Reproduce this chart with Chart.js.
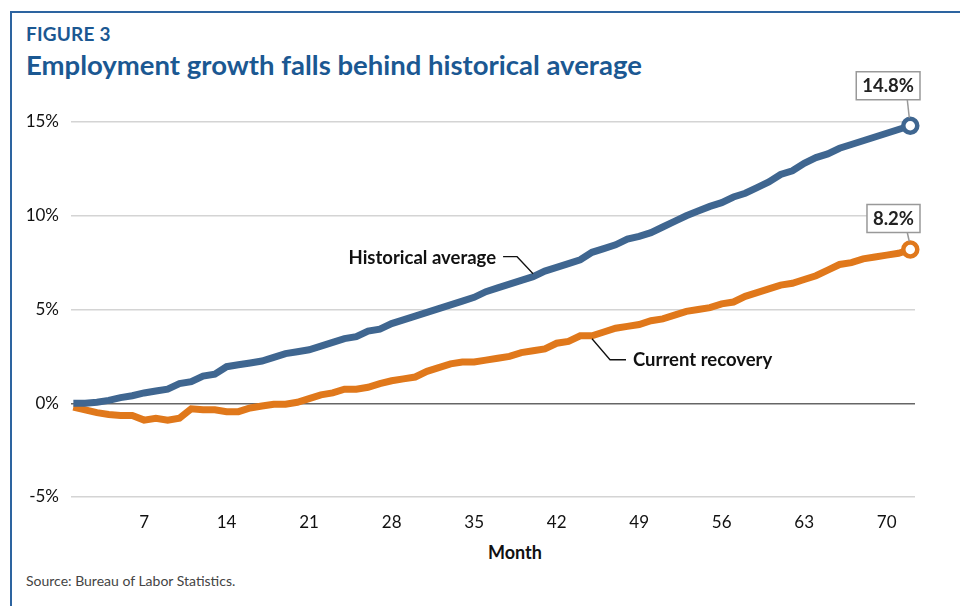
<!DOCTYPE html>
<html>
<head>
<meta charset="utf-8">
<script src="https://cdn.jsdelivr.net/npm/chart.js@4/dist/chart.umd.min.js"></script>
<style>
  html, body { margin: 0; padding: 0; background: #fff; }
  body { width: 960px; height: 606px; position: relative; overflow: hidden; font-family: Lato, "Open Sans", sans-serif; }
  #frame { position: absolute; left: 10px; top: 11px; width: 960px; height: 620px; border-left: 2px solid #2d64a0; border-top: 2px solid #2d64a0; }
  #fig { position: absolute; left: 26px; top: 22px; font-size: 19px; font-weight: bold; color: #1b5892; letter-spacing: 0.2px; }
  #title { position: absolute; left: 26px; top: 48px; font-size: 27.5px; font-weight: bold; color: #1b5892; }
  #month { position: absolute; left: 488px; top: 541px; font-size: 18px; font-weight: bold; color: #111; }
  #source { position: absolute; left: 26px; top: 572px; font-size: 14px; color: #444; }
  canvas { position: absolute; left: 0; top: 0; }
</style>
</head>
<body>
<div id="frame"></div>
<div id="fig">FIGURE 3</div>
<div id="title">Employment growth falls behind historical average</div>
<div id="month">Month</div>
<div id="source">Source: Bureau of Labor Statistics.</div>
<canvas id="grafico" width="960" height="606"></canvas>
<script>
// meses 1..72 apos o inicio da recuperacao
var meses = [];
for (var m = 1; m <= 72; m++) meses.push(m);

var tickMeses = [7, 14, 21, 28, 35, 42, 49, 56, 63, 70];
var tickPercent = [-5, 0, 5, 10, 15];

// Media historica (%)
var mediaHistorica = [
  0.0, 0.0, 0.05, 0.15, 0.3, 0.4, 0.55, 0.65, 0.75, 1.05,
  1.15, 1.45, 1.55, 1.95, 2.05, 2.15, 2.25, 2.45, 2.65, 2.75,
  2.85, 3.05, 3.25, 3.45, 3.55, 3.85, 3.95, 4.25, 4.45, 4.65,
  4.85, 5.05, 5.25, 5.45, 5.65, 5.95, 6.15, 6.35, 6.55, 6.75,
  7.05, 7.25, 7.45, 7.65, 8.05, 8.25, 8.45, 8.75, 8.9, 9.1,
  9.4, 9.7, 10.0, 10.25, 10.5, 10.7, 11.0, 11.2, 11.5, 11.8,
  12.2, 12.4, 12.8, 13.1, 13.3, 13.6, 13.8, 14.0, 14.2, 14.4,
  14.6, 14.8
];

// Recuperacao atual (%)
var recuperacaoAtual = [
  -0.2, -0.35, -0.5, -0.6, -0.65, -0.65, -0.9, -0.8, -0.9, -0.8,
  -0.3, -0.35, -0.35, -0.45, -0.45, -0.25, -0.15, -0.05, -0.05, 0.05,
  0.25, 0.45, 0.55, 0.75, 0.75, 0.85, 1.05, 1.2, 1.3, 1.4,
  1.7, 1.9, 2.1, 2.2, 2.2, 2.3, 2.4, 2.5, 2.7, 2.8,
  2.9, 3.2, 3.3, 3.6, 3.6, 3.8, 4.0, 4.1, 4.2, 4.4,
  4.5, 4.7, 4.9, 5.0, 5.1, 5.3, 5.4, 5.7, 5.9, 6.1,
  6.3, 6.4, 6.6, 6.8, 7.1, 7.4, 7.5, 7.7, 7.8, 7.9,
  8.0, 8.2
];

var nomes = ['Historical average', 'Current recovery'];
var cores = ['#3f6690', '#e0781b'];

var ultimo = meses.length - 1;
function raioFinal(ctx) { return ctx.dataIndex === ultimo ? 7 : 0; }

// desenha rotulos das series e valores finais
var anotacoes = {
  id: 'anotacoes',
  afterDatasetsDraw: function (chart) {
    var c = chart.ctx;
    var xs = chart.scales.x, ys = chart.scales.y;
    c.save();
    c.font = 'bold 18.5px Lato, sans-serif';
    c.fillStyle = '#111';
    c.strokeStyle = '#111';
    c.lineWidth = 1.3;
    c.textBaseline = 'middle';

    // Historical average
    var hx = xs.getPixelForValue(meses[39]);
    var hy = ys.getPixelForValue(mediaHistorica[39]) - 3;
    c.beginPath();
    c.moveTo(hx, hy);
    c.lineTo(hx - 16, hy - 17);
    c.lineTo(hx - 30, hy - 17);
    c.stroke();
    c.textAlign = 'right';
    c.fillText(nomes[0], hx - 37, hy - 16);

    // Current recovery
    var rx = xs.getPixelForValue(meses[44]);
    var ry = ys.getPixelForValue(recuperacaoAtual[44]) + 3;
    c.beginPath();
    c.moveTo(rx, ry);
    c.lineTo(rx + 18, ry + 21);
    c.lineTo(rx + 34, ry + 21);
    c.stroke();
    c.textAlign = 'left';
    c.fillText(nomes[1], rx + 41, ry + 21);

    // caixas com valor final
    var finais = [mediaHistorica[ultimo], recuperacaoAtual[ultimo]];
    var gaps = [26, 17];
    c.textAlign = 'center';
    for (var i = 0; i < finais.length; i++) {
      var px = xs.getPixelForValue(meses[ultimo]);
      var py = ys.getPixelForValue(finais[i]);
      var txt = finais[i].toFixed(1) + '%';
      var w = c.measureText(txt).width + 12;
      var bx = 920 - w, bb = py - gaps[i], bt = bb - 28;
      c.strokeStyle = '#999';
      c.lineWidth = 1.5;
      c.beginPath();
      c.moveTo(px - 3, bb);
      c.lineTo(px - 1, py - 8);
      c.stroke();
      c.fillStyle = '#fff';
      c.fillRect(bx, bt, w, 28);
      c.strokeRect(bx, bt, w, 28);
      c.fillStyle = '#222';
      c.fillText(txt, bx + w / 2, bt + 14.5);
    }
    c.restore();
  }
};

var ctx = document.getElementById('grafico').getContext('2d');
var chart = new Chart(ctx, {
  type: 'line',
  data: {
    labels: meses,
    datasets: [
      {
        label: nomes[0],
        data: mediaHistorica,
        borderColor: cores[0],
        backgroundColor: '#fff',
        borderWidth: 7,
        pointRadius: raioFinal,
        pointHoverRadius: raioFinal,
        pointBorderWidth: 4.5,
        pointBorderColor: cores[0],
        pointBackgroundColor: '#fff',
        tension: 0
      },
      {
        label: nomes[1],
        data: recuperacaoAtual,
        borderColor: cores[1],
        backgroundColor: '#fff',
        borderWidth: 7,
        pointRadius: raioFinal,
        pointHoverRadius: raioFinal,
        pointBorderWidth: 4.5,
        pointBorderColor: cores[1],
        pointBackgroundColor: '#fff',
        tension: 0
      }
    ]
  },
  options: {
    responsive: false,
    animation: false,
    clip: false,
    layout: { padding: { top: 122, left: 0, right: 45, bottom: 0 } },
    plugins: {
      legend: { display: false },
      tooltip: { enabled: false }
    },
    scales: {
      x: {
        type: 'linear',
        min: 0.8,
        max: 72.4,
        afterFit: function (s) { s.height = 109; },
        afterBuildTicks: function (s) { s.ticks = tickMeses.map(function (v) { return { value: v }; }); },
        grid: { display: false, drawTicks: false },
        border: { display: false },
        ticks: { padding: 15, color: '#111', font: { family: 'Lato', size: 17 }, maxRotation: 0, autoSkip: false }
      },
      y: {
        min: -5,
        max: 15,
        afterFit: function (s) { s.width = 71; },
        afterBuildTicks: function (s) { s.ticks = tickPercent.map(function (v) { return { value: v }; }); },
        grid: {
          drawTicks: false,
          color: function (c) { return c.tick && c.tick.value === 0 ? '#666' : '#d4d4d4'; },
          lineWidth: 1.5
        },
        border: { display: false },
        ticks: {
          padding: 12,
          color: '#111',
          font: { family: 'Lato', size: 17 },
          callback: function (v) { return v + '%'; }
        }
      }
    }
  },
  plugins: [anotacoes]
});
</script>
</body>
</html>
